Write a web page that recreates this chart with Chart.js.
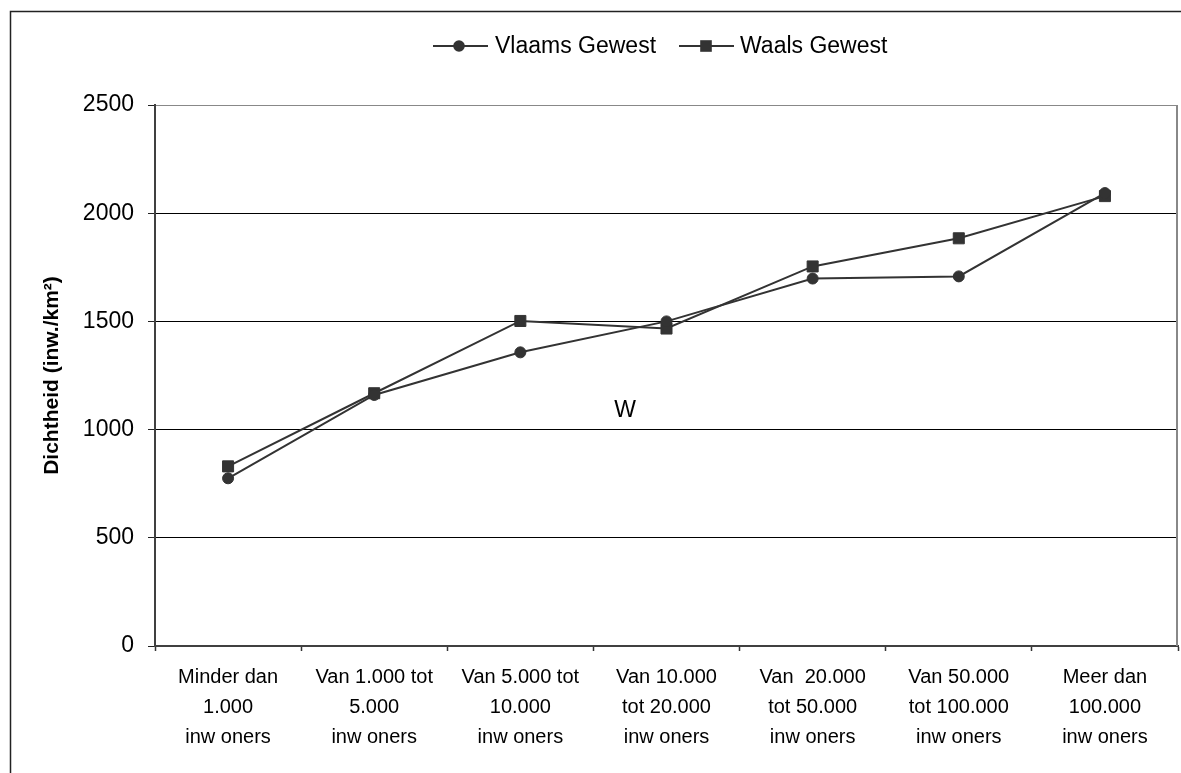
<!DOCTYPE html>
<html>
<head>
<meta charset="utf-8">
<script src="https://cdn.jsdelivr.net/npm/chart.js@4/dist/chart.umd.min.js"></script>
<style>
  html, body { margin: 0; padding: 0; background: #fff; }
  canvas { display: block; }
</style>
</head>
<body>
<canvas id="c" width="1181" height="773"></canvas>
<script>
const categories = [
  ["Minder dan", "1.000", "inw oners"],
  ["Van 1.000 tot", "5.000", "inw oners"],
  ["Van 5.000 tot", "10.000", "inw oners"],
  ["Van 10.000", "tot 20.000", "inw oners"],
  ["Van  20.000", "tot 50.000", "inw oners"],
  ["Van 50.000", "tot 100.000", "inw oners"],
  ["Meer dan", "100.000", "inw oners"]
];
const vlaams = [775, 1160, 1357, 1500, 1698, 1708, 2093];
const waals = [830, 1168, 1502, 1467, 1754, 1884, 2079];
const seriesNames = ["Vlaams Gewest", "Waals Gewest"];
const yTitle = "Dichtheid (inw./km²)";
const annotationText = "W";

const FONT = '"Liberation Sans", Arial, sans-serif';
const LINE = '#333333';

const decor = {
  id: 'decor',
  beforeDraw(chart) {
    const ctx = chart.ctx;
    ctx.save();
    ctx.fillStyle = '#fff';
    ctx.fillRect(0, 0, chart.width, chart.height);
    ctx.strokeStyle = '#222';
    ctx.lineWidth = 1.5;
    ctx.strokeRect(10.5, 11.5, 1300, 900);
    ctx.restore();
  },
  afterDraw(chart) {
    const ctx = chart.ctx;
    const a = chart.chartArea;
    ctx.save();
    // right plot border
    ctx.strokeStyle = '#888';
    ctx.lineWidth = 2;
    ctx.beginPath();
    ctx.moveTo(a.right - 1, a.top);
    ctx.lineTo(a.right - 1, a.bottom);
    ctx.stroke();
    // legend
    const items = [
      { name: seriesNames[0], x0: 433, x1: 488, mx: 459, tx: 495, style: 'circle' },
      { name: seriesNames[1], x0: 679, x1: 734, mx: 706, tx: 740, style: 'rect' }
    ];
    const ly = 46;
    ctx.font = '23px ' + FONT;
    ctx.textBaseline = 'middle';
    ctx.textAlign = 'left';
    items.forEach(it => {
      ctx.strokeStyle = LINE;
      ctx.lineWidth = 2;
      ctx.beginPath();
      ctx.moveTo(it.x0, ly);
      ctx.lineTo(it.x1, ly);
      ctx.stroke();
      ctx.fillStyle = LINE;
      if (it.style === 'circle') {
        ctx.beginPath();
        ctx.arc(it.mx, ly, 5.8, 0, Math.PI * 2);
        ctx.fill();
      } else {
        ctx.fillRect(it.mx - 5.8, ly - 5.8, 11.6, 11.6);
      }
      ctx.fillStyle = '#000';
      ctx.fillText(it.name, it.tx, ly + 1);
    });
    // stray annotation
    ctx.textAlign = 'center';
    ctx.fillText(annotationText, 625, 411);
    ctx.restore();
  }
};

new Chart(document.getElementById('c'), {
  type: 'line',
  data: {
    labels: categories,
    datasets: [
      {
        label: seriesNames[0],
        data: vlaams,
        borderColor: LINE,
        backgroundColor: LINE,
        borderWidth: 2,
        pointStyle: 'circle',
        pointRadius: 5.5,
        pointBorderWidth: 1,
        pointBackgroundColor: LINE,
        pointBorderColor: LINE,
        tension: 0,
        fill: false
      },
      {
        label: seriesNames[1],
        data: waals,
        borderColor: LINE,
        backgroundColor: LINE,
        borderWidth: 2,
        pointStyle: 'rect',
        pointRadius: 7.8,
        pointBorderWidth: 1,
        pointBackgroundColor: LINE,
        pointBorderColor: LINE,
        tension: 0,
        fill: false
      }
    ]
  },
  options: {
    responsive: false,
    animation: false,
    devicePixelRatio: 1,
    layout: { autoPadding: false, padding: { top: 105, left: 0, right: 3, bottom: 0 } },
    plugins: {
      legend: { display: false },
      tooltip: { enabled: false },
      title: { display: false }
    },
    scales: {
      x: {
        type: 'category',
        offset: true,
        afterFit(scale) {
          scale.height = 127;
          scale.paddingLeft = 0;
          scale.paddingRight = 0;
        },
        grid: {
          offset: true,
          drawOnChartArea: false,
          drawTicks: true,
          tickLength: 5,
          tickColor: '#333',
          tickWidth: 1.5
        },
        border: { display: true, color: '#404040', width: 2 },
        ticks: {
          color: '#000',
          font: { family: FONT, size: 20, lineHeight: 1.5 },
          padding: 11,
          maxRotation: 0,
          autoSkip: false
        }
      },
      y: {
        min: 0,
        max: 2500,
        afterFit(scale) { scale.width = 155; },
        ticks: {
          stepSize: 500,
          color: '#000',
          font: { family: FONT, size: 23 },
          padding: 14,
          callback: (v) => String(v)
        },
        grid: {
          color: (c) => (c.tick && c.tick.value === 2500) ? '#888' : '#000',
          lineWidth: 1,
          tickLength: 7,
          tickColor: '#222'
        },
        border: { display: true, color: '#404040', width: 2 },
        title: {
          display: true,
          text: yTitle,
          color: '#000',
          font: { family: FONT, size: 21, weight: 'bold' },
          padding: { top: 40, bottom: 0 }
        }
      }
    }
  },
  plugins: [decor]
});
</script>
</body>
</html>
